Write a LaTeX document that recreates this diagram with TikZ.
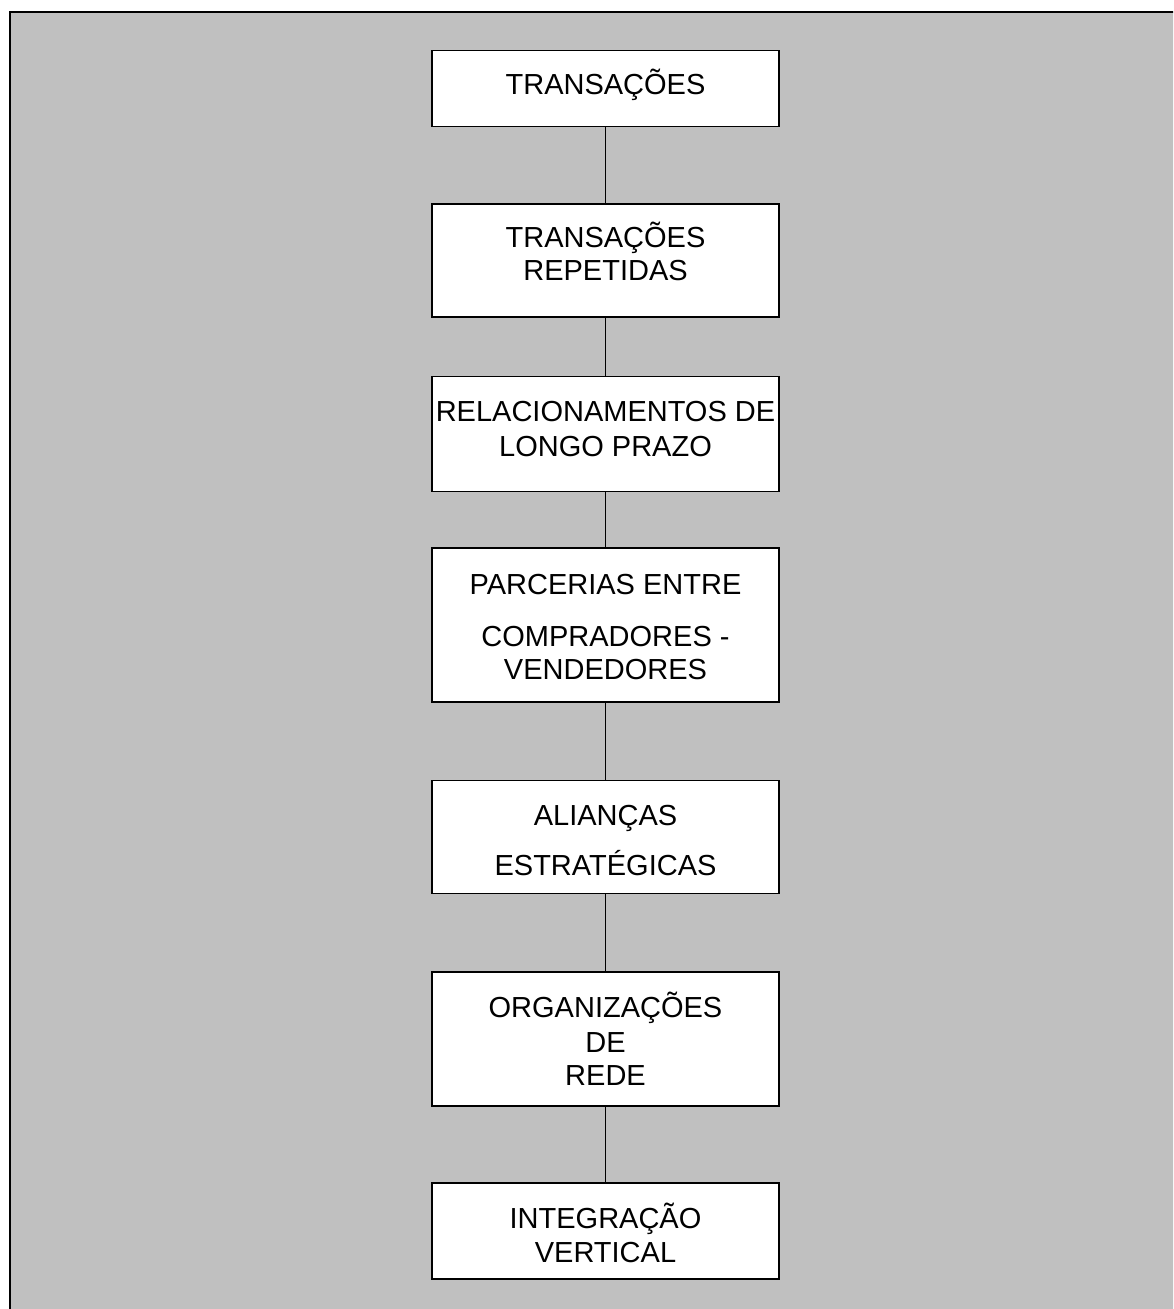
\documentclass[tikz,border=0pt]{standalone}
\usepackage{fontspec}
\setmainfont{Liberation Sans}
\definecolor{panelgray}{HTML}{C0C0C0}
\begin{document}
\begin{tikzpicture}[x=1pt,y=-1pt,
  stagebox/.style={draw=black,fill=white,line width=1.3pt,rectangle,inner sep=0pt,
    minimum width=347pt},
  caption/.style={anchor=base,inner sep=0pt,font=\fontsize{29}{33}\selectfont},
  link/.style={draw=black,line width=1.3pt}]
% page frame
\useasboundingbox (0,0) rectangle (1173,1309);
\fill[white] (0,0) rectangle (1173,1309);
\begin{scope}
\clip (0,0) rectangle (1173,1309);
\draw[fill=panelgray,line width=1.5pt] (10,12) rectangle (1190,1330);
\end{scope}
% stages (centre y, height)
\node[stagebox,minimum height=76pt]  (b1) at (605.5,88.7)  {};
\node[stagebox,minimum height=113pt] (b2) at (605.5,260.5) {};
\node[stagebox,minimum height=115pt] (b3) at (605.5,434.3) {};
\node[stagebox,minimum height=154pt] (b4) at (605.5,625)   {};
\node[stagebox,minimum height=113pt] (b5) at (605.5,837.3) {};
\node[stagebox,minimum height=134pt] (b6) at (605.5,1039)  {};
\node[stagebox,minimum height=96pt]  (b7) at (605.5,1231)  {};
% connectors
\draw[link] (b1.south) -- (b2.north);
\draw[link] (b2.south) -- (b3.north);
\draw[link] (b3.south) -- (b4.north);
\draw[link] (b4.south) -- (b5.north);
\draw[link] (b5.south) -- (b6.north);
\draw[link] (b6.south) -- (b7.north);
% labels (baseline = cap centre + 10.4)
\node[caption] (t1)  at (605.5,94.1)   {TRANSAÇÕES};
\node[caption] (t2a) at (605.5,247.1)  {TRANSAÇÕES};
\node[caption] (t2b) at (605.5,280.4)  {REPETIDAS};
\node[caption] (t3a) at (605.5,421.4)  {RELACIONAMENTOS DE};
\node[caption] (t3b) at (605.5,456.4)  {LONGO PRAZO};
\node[caption] (t4a) at (605.5,594.4)  {PARCERIAS ENTRE};
\node[caption] (t4b) at (605.5,646.4)  {COMPRADORES -};
\node[caption] (t4c) at (605.5,679.4)  {VENDEDORES};
\node[caption] (t5a) at (605.5,825.4)  {ALIANÇAS};
\node[caption] (t5b) at (605.5,875.4)  {ESTRATÉGICAS};
\node[caption] (t6a) at (605.5,1017.4) {ORGANIZAÇÕES};
\node[caption] (t6b) at (605.5,1052.4) {DE};
\node[caption] (t6c) at (605.5,1085.4) {REDE};
\node[caption] (t7a) at (605.5,1228.4) {INTEGRAÇÃO};
\node[caption] (t7b) at (605.5,1262.4) {VERTICAL};
\end{tikzpicture}
\end{document}
